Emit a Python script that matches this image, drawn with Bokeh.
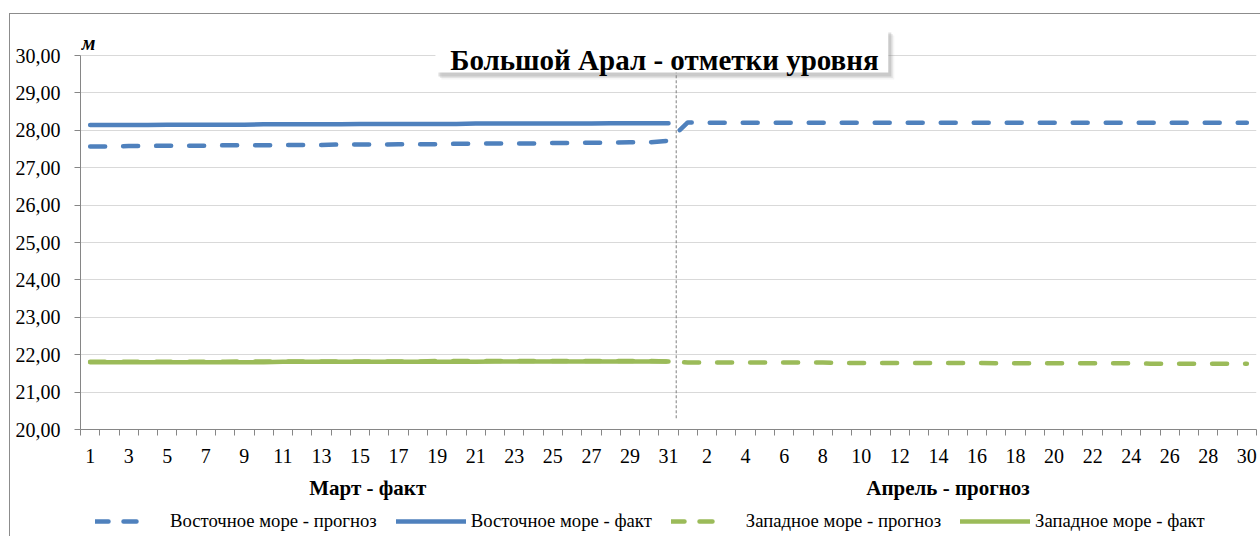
from bokeh.plotting import figure
from bokeh.layouts import column
from bokeh.models import (FixedTicker, Legend, LegendItem, BoxAnnotation, Label, Range1d)
from bokeh.embed import file_html
from bokeh.resources import INLINE

# ---------------- data ----------------
march_days = list(range(1, 32))
april_days = list(range(1, 31))
x_all = list(range(1, 62))          # category positions (March 1 .. April 30)
x_march = list(range(1, 32))

east_fact_march = [28.14, 28.14, 28.14, 28.14, 28.15, 28.15, 28.15, 28.15, 28.15, 28.16,
                   28.16, 28.16, 28.16, 28.16, 28.17, 28.17, 28.17, 28.17, 28.17, 28.17,
                   28.18, 28.18, 28.18, 28.18, 28.18, 28.18, 28.18, 28.19, 28.19, 28.19, 28.19]
east_forecast = [27.57, 27.57, 27.58, 27.58, 27.59, 27.59, 27.59, 27.60, 27.60, 27.60,
                 27.61, 27.61, 27.61, 27.62, 27.62, 27.62, 27.63, 27.63, 27.63, 27.64,
                 27.64, 27.65, 27.65, 27.65, 27.66, 27.66, 27.67, 27.67, 27.68, 27.68, 27.72,
                 28.21, 28.20, 28.20, 28.20, 28.20, 28.20, 28.20, 28.20, 28.20, 28.20,
                 28.20, 28.20, 28.20, 28.20, 28.20, 28.20, 28.20, 28.20, 28.20, 28.20,
                 28.20, 28.20, 28.20, 28.20, 28.20, 28.20, 28.20, 28.20, 28.20, 28.20]
west_fact_march = [21.80, 21.80, 21.80, 21.80, 21.80, 21.80, 21.80, 21.80, 21.80, 21.80,
                   21.81, 21.81, 21.81, 21.81, 21.81, 21.81, 21.81, 21.81, 21.81, 21.81,
                   21.81, 21.82, 21.82, 21.82, 21.82, 21.82, 21.82, 21.82, 21.82, 21.82, 21.82]
west_forecast = [21.81, 21.81, 21.81, 21.81, 21.81, 21.81, 21.81, 21.81, 21.82, 21.82,
                 21.82, 21.82, 21.82, 21.82, 21.82, 21.82, 21.82, 21.82, 21.83, 21.83,
                 21.83, 21.83, 21.83, 21.83, 21.83, 21.83, 21.83, 21.83, 21.83, 21.83, 21.82,
                 21.79, 21.79, 21.79, 21.79, 21.79, 21.79, 21.79, 21.79, 21.78, 21.78,
                 21.78, 21.78, 21.78, 21.78, 21.78, 21.78, 21.77, 21.77, 21.77, 21.77,
                 21.77, 21.77, 21.77, 21.77, 21.76, 21.76, 21.76, 21.76, 21.76, 21.76]

y_ticks = [20, 21, 22, 23, 24, 25, 26, 27, 28, 29, 30]
y_tick_labels = ["20,00", "21,00", "22,00", "23,00", "24,00", "25,00",
                 "26,00", "27,00", "28,00", "29,00", "30,00"]

group_labels = ["Март - факт", "Апрель - прогноз"]
group_positions = [15.4, 45.5]
month_boundary = 31.4

series_names = ["Восточное море - прогноз", "Восточное море - факт",
                "Западное море - прогноз", "Западное море - факт"]
title_text = "Большой Арал - отметки уровня"
unit_text = "м"

BLUE = "#4f81bd"
GREEN = "#9bbb59"
AXIS = "#868686"
FONT = "Liberation Serif"
LW = 4.5
DASH = "15 18"
LEGEND_DASH = "13 15 13 40"

# ---------------- main chart ----------------
p = figure(width=1250, height=453, output_backend="svg", toolbar_location=None,
           title=None,
           x_range=Range1d(0.5, 61.5), y_range=Range1d(20, 30.99),
           min_border_left=70, min_border_right=4, min_border_top=4, min_border_bottom=38)
p.outline_line_color = None
p.background_fill_color = "white"
p.border_fill_color = "white"

# y axis
yax = p.yaxis[0]
yax.ticker = FixedTicker(ticks=y_ticks)
yax.major_label_overrides = {t: l for t, l in zip(y_ticks, y_tick_labels)}
yax.bounds = (20, 30)
yax.axis_line_color = AXIS
yax.major_tick_line_color = AXIS
yax.major_tick_out = 6
yax.major_tick_in = 0
yax.minor_tick_line_color = None
yax.major_label_standoff = 14
yax.major_label_text_font = FONT
yax.major_label_text_font_size = "20px"
yax.major_label_text_color = "black"
p.ygrid.grid_line_color = "#d9d9d9"
p.xgrid.visible = False

# x axis (days)
x_labels = [str(d) for d in march_days] + [str(d) for d in april_days]
x_major = x_all[::2]
xax = p.xaxis[0]
xax.ticker = FixedTicker(ticks=x_major, minor_ticks=[x - 0.5 for x in x_all] + [61.5])
xax.major_label_overrides = {x: x_labels[x - 1] for x in x_major}
xax.axis_line_color = AXIS
xax.major_tick_line_color = None
xax.major_tick_out = 6
xax.major_tick_in = 0
xax.minor_tick_line_color = AXIS
xax.minor_tick_out = 6
xax.minor_tick_in = 0
xax.major_label_standoff = 13
xax.major_label_text_font = FONT
xax.major_label_text_font_size = "20px"
xax.major_label_text_color = "black"

# series
r_ef = p.line(x_all, east_forecast, line_color=BLUE, line_width=LW, line_dash=DASH,
              line_cap="round", line_join="round")
r_ea = p.line(x_march, east_fact_march, line_color=BLUE, line_width=LW,
              line_cap="round", line_join="round")
r_wf = p.line(x_all, west_forecast, line_color=GREEN, line_width=LW, line_dash=DASH,
              line_cap="round", line_join="round")
r_wa = p.line(x_march, west_fact_march, line_color=GREEN, line_width=LW,
              line_cap="round", line_join="round")

# month boundary
p.segment(x0=[month_boundary], y0=[20.3], x1=[month_boundary], y1=[29.6],
          line_color="#7f7f7f", line_width=1, line_dash="3 2")

# title box with soft shadow
bl, br, bb, bt = 18.91, 42.4, 29.545, 30.722
for dxp, dyp, a in [(6, 7, 0.08), (4.5, 5.5, 0.15), (3, 4, 0.25)]:
    dx, dy = dxp / 19.28, dyp / 37.4
    p.add_layout(BoxAnnotation(left=bl + dx, right=br + dx, bottom=bb - dy, top=bt - dy,
                               fill_color="#7f7f7f", fill_alpha=a, line_color=None))
p.add_layout(BoxAnnotation(left=bl, right=br, bottom=bb, top=bt,
                           fill_color="white", fill_alpha=1, line_color=None))
p.add_layout(Label(x=30.79, y=29.885, text=title_text, text_align="center",
                   text_baseline="alphabetic", text_font=FONT, text_font_size="29px",
                   text_font_style="bold", text_color="black"))
# unit label at the top of the value axis
p.add_layout(Label(x=0.56, y=30.33, text=unit_text, text_align="left",
                   text_baseline="middle", text_font=FONT, text_font_size="20px",
                   text_font_style="bold italic", text_color="black"))

# ---------------- lower strip: group labels + legend ----------------
p2 = figure(width=1250, height=69, output_backend="svg", toolbar_location=None,
            title=None, x_range=p.x_range, y_range=Range1d(0, 69),
            x_axis_type=None, y_axis_type=None,
            min_border_left=70, min_border_right=4, min_border_top=0, min_border_bottom=0)
p2.outline_line_color = None
p2.background_fill_color = "white"
p2.border_fill_color = "white"
p2.xgrid.visible = False
p2.ygrid.visible = False

for pos, lab in zip(group_positions, group_labels):
    p2.add_layout(Label(x=pos, y=49, text=lab, text_align="center", text_baseline="middle",
                        text_font=FONT, text_font_size="21px", text_font_style="bold",
                        text_color="black"))

# legend sample glyphs: style carriers placed outside the visible range
proxy_x = [0, 1]
proxy_y = [-500, -500]
g_ef = p2.line(proxy_x, proxy_y, line_color=BLUE, line_width=LW, line_dash=LEGEND_DASH,
               line_cap="round")
g_ea = p2.line(proxy_x, proxy_y, line_color=BLUE, line_width=LW, line_cap="round")
g_wf = p2.line(proxy_x, proxy_y, line_color=GREEN, line_width=LW, line_dash=LEGEND_DASH,
               line_cap="round")
g_wa = p2.line(proxy_x, proxy_y, line_color=GREEN, line_width=LW, line_cap="round")

legend = Legend(items=[LegendItem(label=series_names[0], renderers=[g_ef]),
                       LegendItem(label=series_names[1], renderers=[g_ea]),
                       LegendItem(label=series_names[2], renderers=[g_wf]),
                       LegendItem(label=series_names[3], renderers=[g_wa])],
                orientation="horizontal", location=(15, 4),
                label_text_font=FONT, label_text_font_size="18.7px", label_text_color="black",
                glyph_width=70, glyph_height=20, label_height=20, label_standoff=5,
                spacing=19, padding=1, margin=0,
                border_line_color=None, background_fill_alpha=0)
p2.add_layout(legend)

layout = column(p, p2, spacing=0)
layout.styles = {"margin-left": "9px", "margin-top": "13px",
                 "border-left": "1px solid #8c8c8c", "border-top": "1px solid #8c8c8c"}

open("out.html", "w").write(file_html(layout, INLINE))
